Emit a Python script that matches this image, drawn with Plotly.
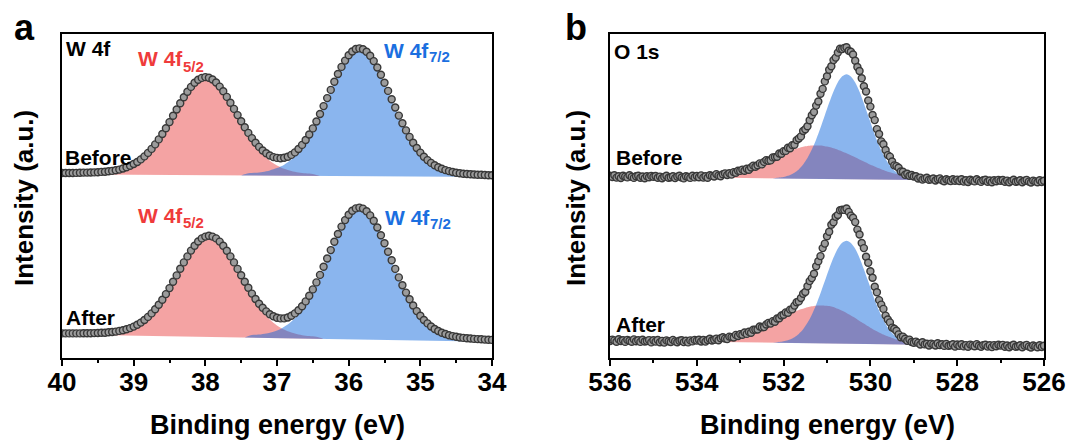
import numpy as np
import plotly.graph_objects as go

# ---------------- Panel a : W 4f ----------------
W_ENERGY = np.round(40.0 - 0.05 * np.arange(121), 2)

W_BEFORE = [
    185.0, 185.0, 185.0, 185.0, 185.1, 185.2, 185.4, 185.4, 185.5, 185.6,
    185.8, 186.1, 186.3, 186.7, 187.1, 187.7, 188.4, 189.5, 190.7, 192.2,
    194.0, 196.0, 198.6, 201.6, 205.1, 209.1, 213.6, 218.6, 224.0, 229.8,
    235.9, 242.2, 248.5, 254.8, 260.7, 266.3, 271.1, 275.3, 278.2, 280.1,
    280.9, 280.3, 278.5, 275.5, 271.4, 266.7, 261.1, 255.2, 249.1, 242.9,
    236.7, 230.8, 225.1, 219.9, 215.2, 211.1, 207.5, 204.7, 202.5, 200.9,
    200.1, 199.7, 200.2, 201.3, 203.1, 205.6, 209.0, 213.1, 218.0, 223.5,
    229.6, 236.5, 244.0, 251.9, 259.9, 268.1, 276.2, 284.0, 291.1, 297.4,
    302.7, 306.5, 309.0, 309.6, 308.8, 306.3, 302.3, 296.9, 290.5, 283.2,
    275.3, 267.1, 258.7, 250.5, 242.4, 234.8, 227.6, 221.1, 215.3, 210.0,
    205.4, 201.3, 197.9, 195.1, 192.8, 190.7, 189.2, 187.9, 186.9, 186.0,
    185.2, 184.7, 184.3, 184.0, 183.7, 183.5, 183.3, 183.2, 183.0, 182.8,
    182.7]

W_AFTER = [
    24.6, 24.6, 24.6, 24.6, 24.6, 24.6, 24.7, 24.8, 24.8, 24.9,
    25.0, 25.2, 25.3, 25.7, 26.0, 26.4, 27.1, 27.8, 28.7, 29.9,
    31.4, 33.3, 35.4, 38.0, 41.1, 44.6, 48.8, 53.3, 58.3, 63.9,
    69.9, 76.2, 82.6, 89.2, 95.6, 101.6, 107.4, 112.3, 116.5, 119.6,
    121.4, 122.2, 121.4, 119.6, 116.4, 112.2, 107.3, 101.6, 95.6, 89.1,
    82.7, 76.3, 70.2, 64.4, 59.0, 54.2, 50.2, 46.6, 43.8, 41.7,
    40.3, 39.6, 39.6, 40.5, 42.2, 44.6, 47.8, 51.7, 56.6, 62.3,
    68.6, 75.6, 83.1, 91.2, 99.5, 107.9, 116.2, 124.0, 131.4, 137.9,
    143.2, 147.2, 149.6, 150.4, 149.4, 146.8, 142.6, 137.2, 130.5, 122.8,
    114.8, 106.2, 97.7, 89.1, 80.6, 72.8, 65.4, 58.7, 52.5, 46.9,
    42.2, 38.0, 34.6, 31.5, 29.0, 27.0, 25.3, 24.0, 22.7, 21.9,
    21.2, 20.5, 20.1, 19.7, 19.5, 19.1, 18.9, 18.7, 18.4, 18.3,
    18.1]

# fitted components (upper edges) and their backgrounds
W_B_RED_X = np.round(39.6 - 0.1 * np.arange(33), 2)
W_B_RED = [183.5, 185.4, 185.9, 186.7, 188.0, 190.2, 193.5, 198.1, 204.6, 213.0,
           223.4, 235.2, 247.8, 259.9, 270.3, 277.4, 279.8, 277.3, 270.1, 259.7,
           247.4, 234.8, 222.8, 212.4, 203.8, 197.3, 192.6, 189.2, 187.0, 185.5,
           184.7, 184.0, 182.1]
W_B_RED_BG = ([39.6, 36.4], [183.5, 182.1])

W_B_BLUE_X = np.round(37.5 - 0.1 * np.arange(36), 2)
W_B_BLUE = [182.6, 184.8, 185.3, 186.1, 187.6, 189.9, 193.3, 198.4, 205.7, 215.5,
            227.7, 242.4, 258.5, 275.0, 290.1, 301.7, 308.1, 308.0, 301.6, 289.8,
            274.7, 258.1, 241.9, 227.1, 214.8, 205.0, 197.5, 192.4, 188.8, 186.5,
            184.9, 184.0, 183.4, 183.0, 182.7, 181.0]
W_B_BLUE_BG = ([37.5, 34.0], [182.6, 181.0])

W_A_RED_X = np.round(39.55 - 0.1 * np.arange(33), 2)
W_A_RED = [22.9, 24.8, 25.2, 25.9, 27.3, 29.4, 32.7, 37.4, 44.0, 52.6,
           63.2, 75.4, 88.3, 100.7, 111.3, 118.5, 121.0, 118.3, 110.8, 100.0,
           87.3, 74.2, 61.8, 50.9, 42.1, 35.3, 30.3, 26.8, 24.5, 22.8,
           21.9, 21.2, 19.1]
W_A_RED_BG = ([39.55, 36.35], [22.9, 19.1])

W_A_BLUE_X = list(np.round(37.45 - 0.1 * np.arange(35), 2)) + [34.0]
W_A_BLUE = [20.4, 22.9, 23.4, 24.5, 26.3, 29.1, 33.4, 39.7, 48.3, 59.7,
            73.6, 89.6, 106.5, 122.8, 136.8, 146.2, 149.5, 146.0, 136.4, 122.1,
            105.5, 88.4, 72.2, 58.1, 46.4, 37.5, 31.0, 26.5, 23.5, 21.5,
            20.1, 19.3, 18.7, 18.3, 18.0, 16.3]
W_A_BLUE_BG = ([37.45, 34.0], [20.4, 16.3])

# ---------------- Panel b : O 1s ----------------
O_ENERGY = np.round(536.0 - 0.05 * np.arange(201), 2)

O_BEFORE = [
    182.3, 181.0, 182.7, 180.4, 181.7, 180.0, 182.3, 181.4, 180.6, 182.8,
    181.1, 180.1, 181.8, 182.2, 180.3, 181.5, 179.8, 181.8, 180.7, 182.1,
    181.3, 182.0, 180.2, 181.4, 179.7, 181.1, 182.2, 180.2, 180.7, 181.7,
    179.9, 181.4, 182.2, 180.5, 179.6, 181.7, 181.0, 180.1, 182.2, 180.6,
    182.0, 180.8, 182.6, 180.4, 181.8, 180.3, 182.8, 182.1, 181.5, 183.9,
    182.4, 181.8, 183.8, 184.6, 183.0, 184.7, 183.4, 185.9, 185.3, 187.3,
    187.1, 188.4, 187.3, 189.2, 188.3, 190.5, 192.4, 191.3, 192.7, 194.6,
    193.6, 196.1, 197.9, 197.3, 197.6, 200.6, 200.9, 201.3, 204.5, 204.2,
    206.9, 207.1, 210.3, 209.8, 212.9, 213.3, 217.9, 219.5, 221.6, 227.0,
    228.7, 231.7, 237.7, 242.7, 245.9, 252.4, 256.5, 264.2, 269.1, 276.6,
    281.7, 288.2, 291.8, 297.9, 300.4, 305.4, 309.2, 308.9, 310.1, 310.7,
    307.3, 306.2, 303.5, 297.3, 291.0, 287.0, 279.7, 271.7, 266.5, 257.5,
    251.4, 243.0, 237.9, 228.9, 224.0, 216.6, 213.7, 208.0, 202.9, 201.4,
    196.5, 192.6, 191.9, 190.2, 186.5, 186.3, 183.3, 184.3, 182.3, 183.0,
    181.5, 181.7, 179.5, 180.4, 178.4, 179.4, 180.3, 178.2, 178.6, 179.5,
    177.5, 178.9, 179.6, 177.8, 176.8, 178.7, 177.8, 176.9, 178.8, 177.2,
    178.4, 177.0, 178.7, 176.4, 177.7, 176.0, 178.3, 177.4, 176.6, 178.8,
    177.1, 176.1, 177.8, 178.2, 176.3, 177.5, 175.8, 177.8, 176.7, 178.1,
    177.3, 178.0, 176.2, 177.4, 175.7, 177.1, 178.2, 176.2, 176.7, 177.7,
    175.8, 177.3, 178.1, 176.4, 175.5, 177.4, 176.6, 175.7, 177.7, 176.0,
    177.3]

O_AFTER = [
    16.9, 18.4, 17.6, 16.3, 18.7, 17.0, 17.8, 16.1, 18.1, 17.3,
    16.3, 18.6, 16.8, 17.7, 16.1, 18.2, 16.5, 17.0, 17.9, 15.6,
    17.7, 16.4, 18.0, 15.8, 17.1, 15.4, 17.6, 16.8, 16.0, 18.1,
    16.6, 15.7, 17.3, 17.7, 15.9, 17.2, 15.6, 17.6, 16.6, 18.1,
    17.4, 18.2, 16.5, 18.0, 16.4, 18.0, 19.2, 17.5, 18.2, 19.4,
    17.8, 19.7, 20.8, 19.4, 18.9, 21.4, 20.9, 20.5, 23.1, 22.0,
    23.9, 23.3, 25.5, 24.1, 26.2, 25.3, 28.3, 28.4, 28.5, 31.5,
    30.8, 30.9, 33.5, 35.1, 34.4, 36.9, 36.3, 39.5, 39.7, 42.5,
    43.2, 45.6, 45.3, 48.4, 48.7, 52.4, 55.8, 56.6, 60.0, 64.3,
    66.0, 71.7, 76.9, 79.9, 84.3, 91.7, 96.7, 101.9, 109.9, 114.4,
    121.7, 126.2, 133.2, 135.8, 141.2, 143.0, 147.7, 148.3, 148.1, 149.5,
    146.1, 142.4, 140.3, 135.9, 128.4, 123.5, 115.0, 109.9, 101.3, 95.2,
    86.8, 80.3, 71.3, 65.8, 57.9, 53.4, 49.1, 42.4, 38.5, 35.6,
    30.4, 29.2, 27.3, 23.6, 20.8, 21.4, 19.2, 17.3, 18.4, 16.0,
    15.3, 16.4, 15.1, 13.5, 15.7, 13.6, 14.3, 12.5, 14.4, 13.6,
    12.5, 14.7, 12.9, 13.7, 12.1, 14.1, 12.3, 12.8, 13.7, 11.4,
    13.5, 12.2, 13.8, 11.6, 12.9, 11.2, 13.4, 12.6, 11.8, 13.9,
    12.2, 11.3, 12.9, 13.3, 11.4, 12.7, 10.9, 12.9, 11.8, 13.2,
    12.4, 13.1, 11.2, 12.5, 10.8, 12.2, 13.2, 11.3, 11.8, 12.7,
    10.8, 12.4, 13.1, 11.4, 10.5, 12.5, 11.6, 10.7, 12.7, 11.0,
    12.3]

O_B_RED_X = np.round(533.75 - 0.1 * np.arange(51), 2)
O_B_RED = [180.4, 182.0, 182.4, 182.9, 183.6, 184.3, 185.2, 186.2, 187.4, 188.7,
           190.3, 191.9, 193.7, 195.5, 197.5, 199.5, 201.6, 203.5, 205.5, 207.2,
           208.8, 210.1, 211.3, 212.0, 212.5, 212.6, 212.4, 211.8, 211.0, 209.7,
           208.3, 206.6, 204.8, 202.7, 200.7, 198.5, 196.4, 194.3, 192.4, 190.5,
           188.8, 187.1, 185.7, 184.4, 183.3, 182.3, 181.5, 180.7, 180.1, 179.6,
           177.9]
O_B_RED_BG = ([533.75, 528.75], [180.4, 177.9])

O_B_BLUE_X = np.round(532.25 - 0.1 * np.arange(35), 2)
O_B_BLUE = [179.6, 180.2, 180.7, 181.6, 183.0, 185.3, 188.6, 193.5, 200.0, 208.4,
            218.5, 230.2, 242.7, 255.2, 266.6, 275.8, 281.7, 283.8, 281.6, 275.6,
            266.3, 254.8, 242.2, 229.6, 217.8, 207.6, 199.1, 192.5, 187.5, 184.1,
            181.7, 180.2, 179.2, 178.6, 177.9]
O_B_BLUE_BG = ([532.25, 528.85], [179.6, 177.9])

O_A_RED_X = np.round(534.0 - 0.1 * np.arange(53), 2)
O_A_RED = [16.3, 17.3, 17.6, 17.9, 18.3, 18.8, 19.4, 20.1, 20.9, 22.0,
           23.1, 24.3, 25.9, 27.4, 29.2, 31.0, 32.9, 35.1, 37.2, 39.3,
           41.4, 43.4, 45.4, 47.2, 48.8, 50.1, 51.2, 52.0, 52.4, 52.6,
           52.2, 51.4, 50.1, 48.3, 46.3, 43.8, 41.2, 38.5, 35.7, 33.0,
           30.3, 27.8, 25.6, 23.5, 21.7, 20.1, 18.6, 17.5, 16.5, 15.8,
           15.1, 14.5, 13.2]
O_A_RED_BG = ([534.0, 528.8], [16.3, 13.2])

O_A_BLUE_X = np.round(532.25 - 0.1 * np.arange(35), 2)
O_A_BLUE = [15.3, 15.8, 16.2, 17.2, 18.5, 20.8, 24.1, 28.7, 35.2, 43.3,
            53.3, 64.8, 77.0, 89.3, 100.4, 109.5, 115.2, 117.2, 115.1, 109.2,
            100.1, 88.8, 76.4, 64.1, 52.4, 42.4, 34.1, 27.5, 22.8, 19.3,
            17.0, 15.5, 14.4, 13.9, 13.2]
O_A_BLUE_BG = ([532.25, 528.85], [15.3, 13.2])

# ---------------- styling ----------------
W, H = 1071, 440
FONT = "Liberation Sans, Arial, sans-serif"
RED_FILL = "rgba(232,62,62,0.48)"
BLUE_FILL = "rgba(10,100,220,0.48)"
RED_TXT = "#ef3b3b"
BLUE_TXT = "#1b6fe0"


def px(x):
    return x / W


def py(y):
    return 1 - y / H


fig = go.Figure()


def add_fill(x, y, bg, color, xa, ya):
    fig.add_trace(go.Scatter(x=bg[0], y=bg[1], mode="lines", line=dict(width=0),
                             hoverinfo="skip", xaxis=xa, yaxis=ya))
    fig.add_trace(go.Scatter(x=x, y=y, mode="lines",
                             line=dict(width=0, shape="spline", smoothing=0.8),
                             fill="tonexty", fillcolor=color, hoverinfo="skip",
                             xaxis=xa, yaxis=ya))


add_fill(W_B_RED_X, W_B_RED, W_B_RED_BG, RED_FILL, "x", "y")
add_fill(W_B_BLUE_X, W_B_BLUE, W_B_BLUE_BG, BLUE_FILL, "x", "y")
add_fill(W_A_RED_X, W_A_RED, W_A_RED_BG, RED_FILL, "x", "y")
add_fill(W_A_BLUE_X, W_A_BLUE, W_A_BLUE_BG, BLUE_FILL, "x", "y")
add_fill(O_B_RED_X, O_B_RED, O_B_RED_BG, RED_FILL, "x2", "y2")
add_fill(O_B_BLUE_X, O_B_BLUE, O_B_BLUE_BG, BLUE_FILL, "x2", "y2")
add_fill(O_A_RED_X, O_A_RED, O_A_RED_BG, RED_FILL, "x2", "y2")
add_fill(O_A_BLUE_X, O_A_BLUE, O_A_BLUE_BG, BLUE_FILL, "x2", "y2")

MARKER = dict(size=7, color="#9c9c9c", line=dict(color="#383838", width=1.4))
for xs, ys, xa, ya in [(W_ENERGY, W_BEFORE, "x", "y"), (W_ENERGY, W_AFTER, "x", "y"),
                       (O_ENERGY, O_BEFORE, "x2", "y2"), (O_ENERGY, O_AFTER, "x2", "y2")]:
    fig.add_trace(go.Scatter(x=xs, y=ys, mode="markers", marker=MARKER,
                             xaxis=xa, yaxis=ya, hoverinfo="skip"))

ydom = [py(358), py(34)]
common_x = dict(showgrid=False, zeroline=False, showline=True, linecolor="black",
                linewidth=2, mirror=True, ticks="outside", ticklen=6, tickwidth=2,
                tickcolor="black", ticklabelstandoff=-6, automargin=False,
                tickfont=dict(family=FONT, size=26, color="black", weight="bold"))
common_y = dict(showgrid=False, zeroline=False, showline=True, linecolor="black",
                linewidth=2, mirror=True, ticks="", showticklabels=False,
                automargin=False, range=[0, 324], domain=ydom)

xa1 = dict(common_x)
xa1.update(domain=[px(62), px(492)], range=[40, 34], tick0=34, dtick=1, anchor="y",
           minor=dict(dtick=0.5, ticks="outside", ticklen=3, tickwidth=2, tickcolor="black"))
xa2 = dict(common_x)
xa2.update(domain=[px(610), px(1044)], range=[536, 526], tick0=526, dtick=2, anchor="y2",
           minor=dict(dtick=1, ticks="outside", ticklen=3, tickwidth=2, tickcolor="black"))
ya1 = dict(common_y)
ya1.update(anchor="x")
ya2 = dict(common_y)
ya2.update(anchor="x2")

ann = []


def label(text, x, y, size, color="black", xanchor="left", angle=0):
    ann.append(dict(text=f"<b>{text}</b>", x=px(x), y=py(y), xref="paper", yref="paper",
                    xanchor=xanchor, yanchor="middle", showarrow=False, textangle=angle,
                    font=dict(family=FONT, size=size, color=color)))


def peak_label(main, sub, x, y, color):
    # main text plus a smaller, lowered subscript placed right after it
    label(main, x, y, 21, color)
    label(sub, x + 45, y + 7, 15, color)


label("a", 24, 28, 36, xanchor="center")
label("b", 576, 28, 36, xanchor="center")
label("W 4f", 64, 48, 21)
label("Before", 63, 157, 21)
label("After", 64, 317, 21)
peak_label("W 4f", "5/2", 136, 59, RED_TXT)
peak_label("W 4f", "7/2", 382, 50, BLUE_TXT)
peak_label("W 4f", "5/2", 136, 215, RED_TXT)
peak_label("W 4f", "7/2", 383, 217, BLUE_TXT)
label("O 1s", 612, 52, 21)
label("Before", 614, 157, 21)
label("After", 614, 324, 21)
label("Binding energy (eV)", 277, 425, 27, xanchor="center")
label("Binding energy (eV)", 827, 425, 27, xanchor="center")
label("Intensity (a.u.)", 24, 198, 26, xanchor="center", angle=-90)
label("Intensity (a.u.)", 576, 198, 26, xanchor="center", angle=-90)

fig.update_layout(width=W, height=H,
                  margin=dict(l=0, r=0, t=0, b=0, pad=0, autoexpand=False),
                  paper_bgcolor="white", plot_bgcolor="white", showlegend=False,
                  xaxis=xa1, yaxis=ya1, xaxis2=xa2, yaxis2=ya2, annotations=ann,
                  font=dict(family=FONT))

fig.write_html("out.html")
